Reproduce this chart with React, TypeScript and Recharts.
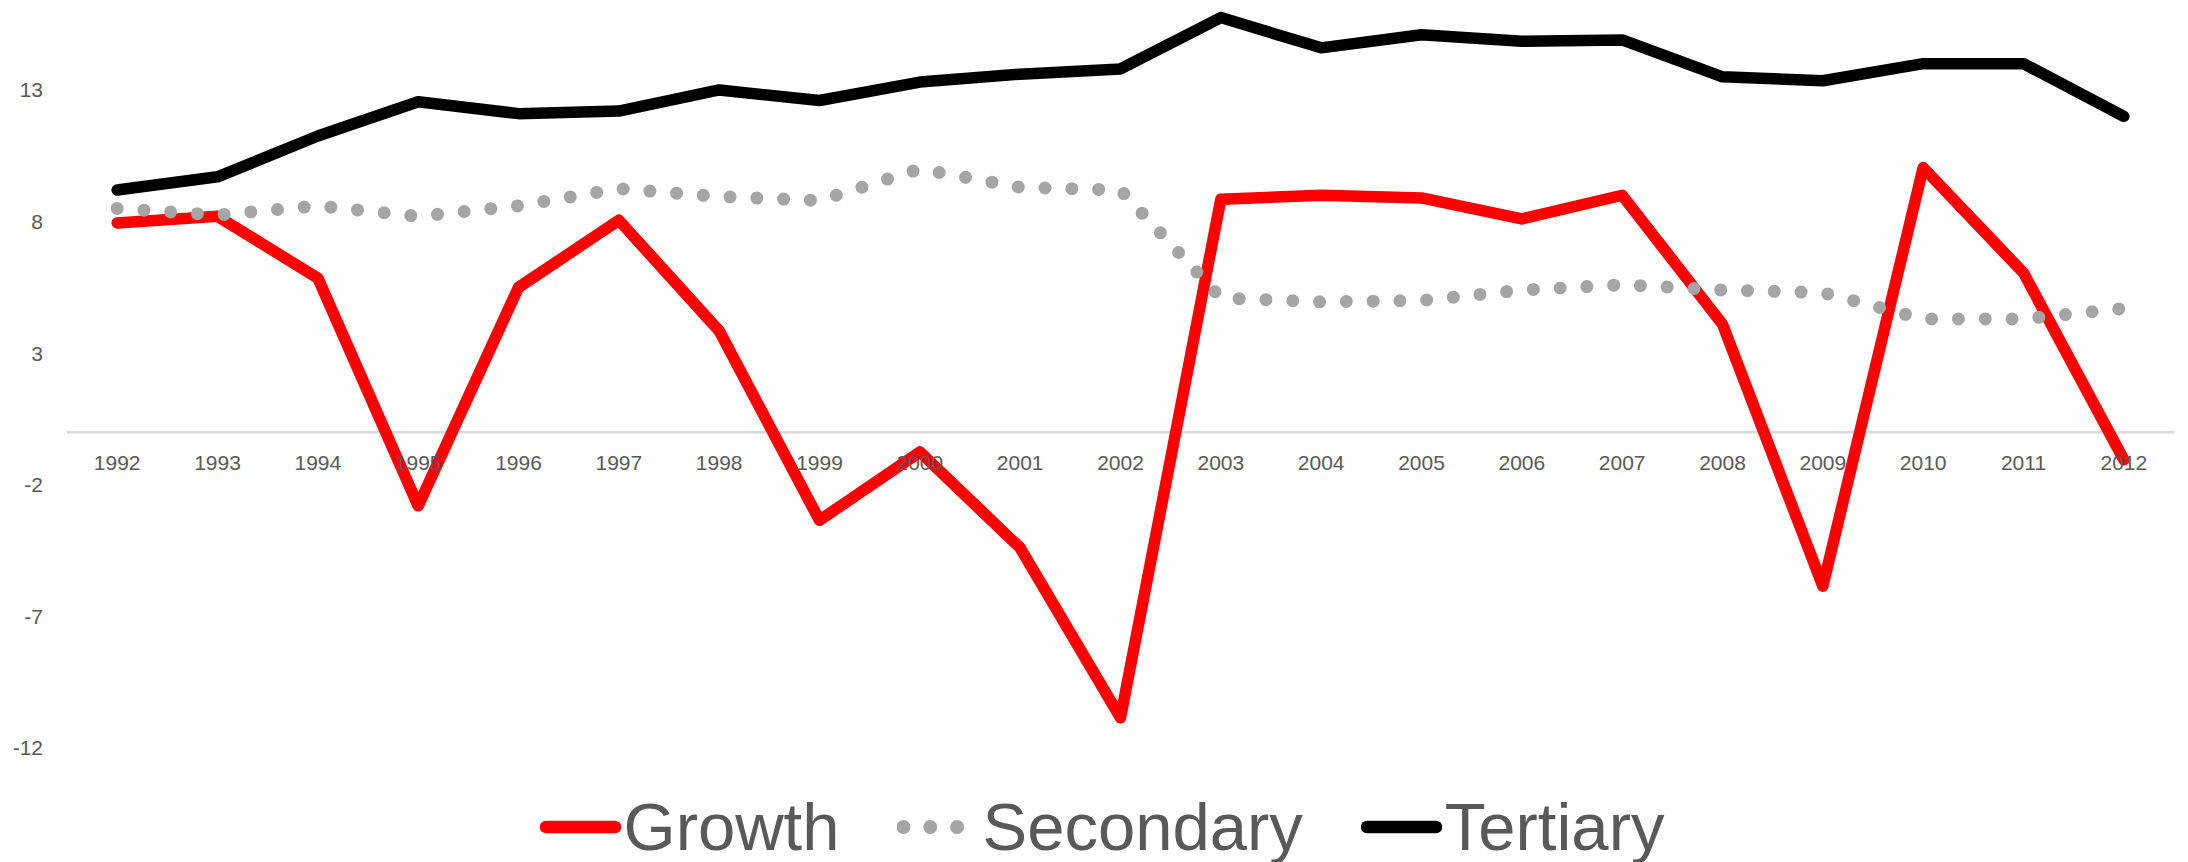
import React from 'react'
import { LineChart, Line, XAxis, YAxis, Legend, ReferenceLine } from 'recharts'

// Years on the category axis
const years = [
  '1992', '1993', '1994', '1995', '1996', '1997', '1998', '1999', '2000', '2001', '2002',
  '2003', '2004', '2005', '2006', '2007', '2008', '2009', '2010', '2011', '2012',
]

// Series values
const growth = [
  7.95, 8.2, 5.85, -2.8, 5.5, 8.05, 3.85, -3.35, -0.75, -4.4, -10.85,
  8.85, 9.0, 8.9, 8.1, 9.0, 4.1, -5.85, 10.05, 6.05, -1.05,
]
const secondary = [
  8.5, 8.25, 8.6, 8.2, 8.6, 9.25, 8.95, 8.8, 10.0, 9.3, 9.2,
  5.1, 4.95, 5.0, 5.4, 5.6, 5.4, 5.3, 4.3, 4.3, 4.7,
]
const tertiary = [
  9.2, 9.7, 11.25, 12.55, 12.1, 12.2, 13.0, 12.6, 13.3, 13.6, 13.8,
  15.75, 14.6, 15.1, 14.85, 14.9, 13.5, 13.35, 14.0, 14.0, 12.0,
]

const yTicks = [-12, -7, -2, 3, 8, 13]

const data = years.map((year, i) => ({
  year,
  growth: growth[i],
  secondary: secondary[i],
  tertiary: tertiary[i],
}))

const W = 2188
const H = 862
const Y_MIN = -12
const Y_MAX = 16
const MARGIN_TOP = 11
const LEGEND_H = 70
const XAXIS_H = 44
const PLOT_H = H - MARGIN_TOP - LEGEND_H - XAXIS_H
const ZERO_Y = MARGIN_TOP + (PLOT_H * Y_MAX) / (Y_MAX - Y_MIN)
const FONT = '"Liberation Sans", Arial, sans-serif'
const TEXT = '#595959'

const series = [
  { key: 'growth', name: 'Growth', color: '#FF0000', width: 11.5, dash: undefined as string | undefined },
  { key: 'secondary', name: 'Secondary', color: '#A5A5A5', width: 13, dash: '0 26.8' },
  { key: 'tertiary', name: 'Tertiary', color: '#000000', width: 11.5, dash: undefined as string | undefined },
]

// x labels sit just under the zero line, like Excel's "axis crosses at 0"
const YearTick = (props: any) => {
  const { x, payload } = props
  return (
    <text
      x={x}
      y={ZERO_Y + 30}
      textAnchor="middle"
      dominantBaseline="central"
      fill={TEXT}
      fontSize={21}
      fontFamily={FONT}
    >
      {payload.value}
    </text>
  )
}

const renderLegend = (props: any) => {
  const items = (props.payload || []).map((p: any) => series.find((s) => s.key === p.dataKey) || series[0])
  return (
    <div
      style={{
        height: LEGEND_H,
        display: 'flex',
        justifyContent: 'center',
        alignItems: 'center',
        gap: 58,
        fontFamily: FONT,
        fontSize: 67,
        color: TEXT,
        paddingLeft: 30,
      }}
    >
      {items.map((s: any) => (
        <div key={s.key} style={{ display: 'flex', alignItems: 'center' }}>
          <svg width={81} height={20}>
            <line
              x1={s.dash ? 6.5 : 6}
              y1={10}
              x2={s.dash ? 62 : 75}
              y2={10}
              stroke={s.color}
              strokeWidth={s.width + 1}
              strokeLinecap="round"
              strokeDasharray={s.dash}
            />
          </svg>
          <span style={{ marginLeft: s.dash ? 4 : 3, lineHeight: '70px' }}>{s.name}</span>
        </div>
      ))}
    </div>
  )
}

export default function App() {
  return (
    <div style={{ position: 'absolute', left: 0, top: 0, width: W, height: H, background: '#fff' }}>
      <LineChart
        width={W}
        height={H}
        data={data}
        margin={{ top: MARGIN_TOP, right: 14, bottom: 0, left: 0 }}
        style={{ fontFamily: FONT }}
      >
        <ReferenceLine y={0} stroke="#D9D9D9" strokeWidth={2.5} ifOverflow="extendDomain" />
        <XAxis
          dataKey="year"
          type="category"
          interval={0}
          axisLine={false}
          tickLine={false}
          height={XAXIS_H}
          padding={{ left: 50.17, right: 50.17 }}
          tick={<YearTick />}
        />
        <YAxis
          type="number"
          domain={[Y_MIN, Y_MAX]}
          ticks={yTicks}
          allowDataOverflow
          axisLine={false}
          tickLine={false}
          tickSize={0}
          tickMargin={24}
          width={67}
          tick={{ fill: TEXT, fontSize: 21, fontFamily: FONT }}
        />
        {series.map((s) => (
          <Line
            key={s.key}
            type="linear"
            dataKey={s.key}
            name={s.name}
            stroke={s.color}
            strokeWidth={s.width}
            strokeDasharray={s.dash}
            strokeLinecap="round"
            strokeLinejoin="round"
            dot={false}
            activeDot={false}
            isAnimationActive={false}
          />
        ))}
        <Legend verticalAlign="bottom" height={LEGEND_H} content={renderLegend} />
      </LineChart>
    </div>
  )
}
